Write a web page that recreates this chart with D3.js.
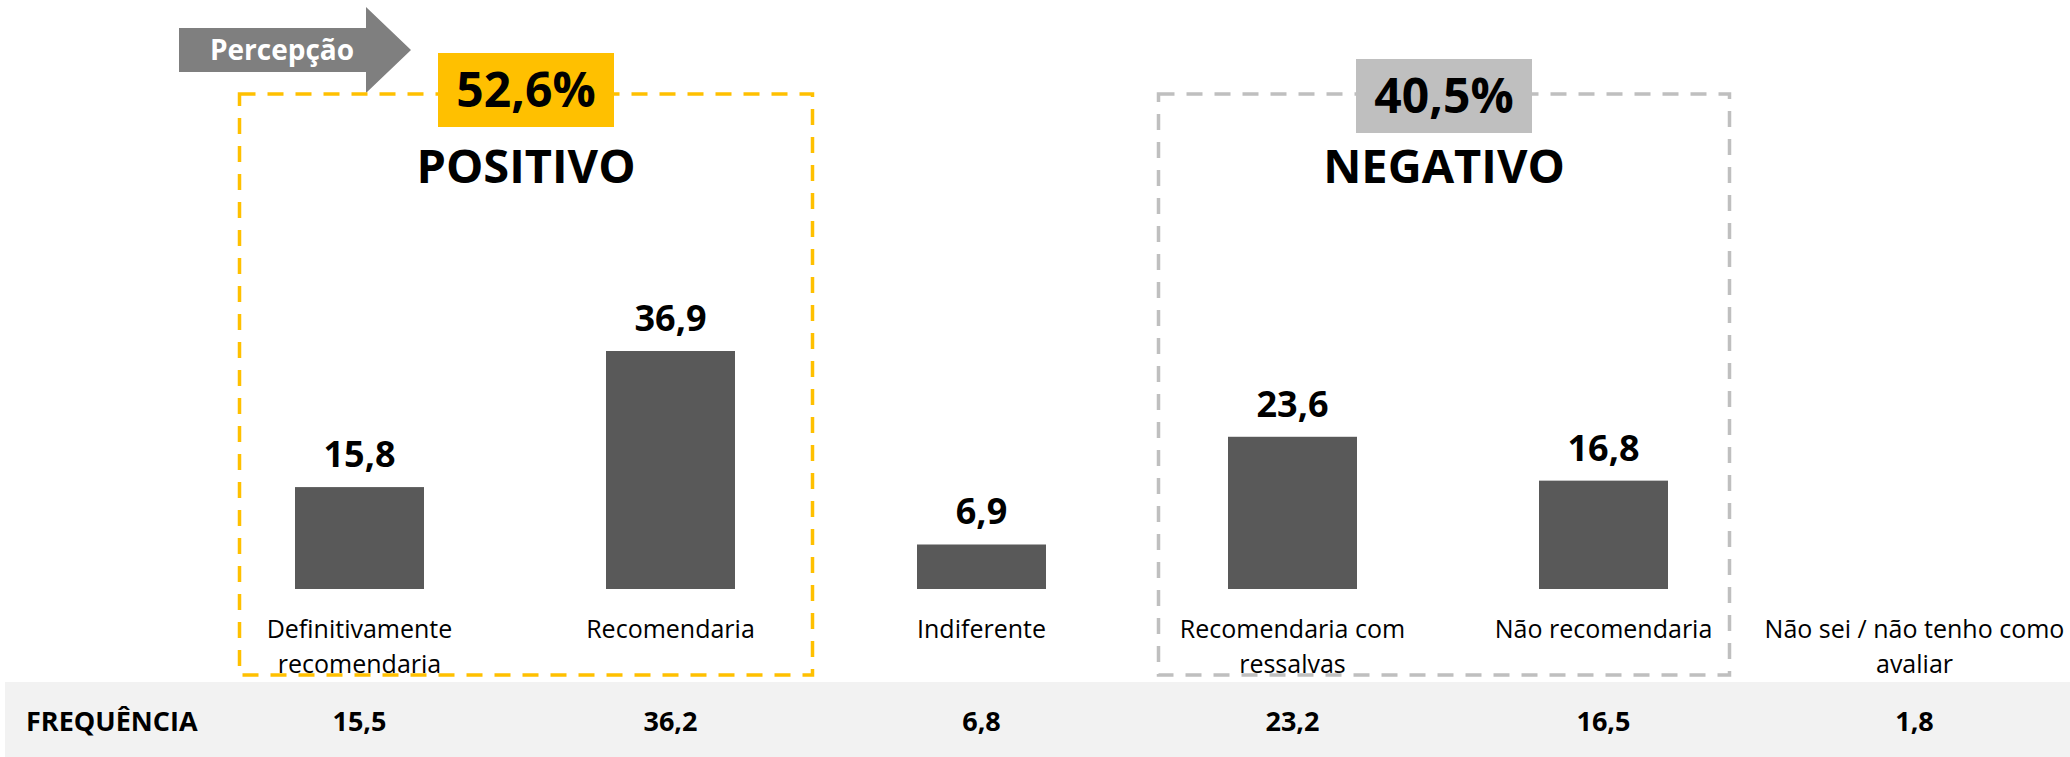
<!DOCTYPE html>
<html>
<head>
<meta charset="utf-8">
<script src="https://cdn.jsdelivr.net/npm/d3@7"></script>
<style>
  body { margin: 0; background: #fff; }
  svg { display: block; font-family: "Open Sans", "Noto Sans", sans-serif; }
</style>
</head>
<body>
<script>
// chart data
var categories = [
  "Definitivamente\nrecomendaria",
  "Recomendaria",
  "Indiferente",
  "Recomendaria com\nressalvas",
  "Não recomendaria",
  "Não sei / não tenho como\navaliar"
]
var barValues = [15.8, 36.9, 6.9, 23.6, 16.8, null]
var frequency = [15.5, 36.2, 6.8, 23.2, 16.5, 1.8]

var groupNames = ["POSITIVO", "NEGATIVO"]
var groupShares = ["52,6%", "40,5%"]
var groupFirst = [0, 3]
var groupLast = [1, 4]

var fmt = function(v) { return d3.format(".1f")(v).replace(".", ",") }

var width = 2070, height = 757
var svg = d3.select('body').append('svg')
  .attr('width', width)
  .attr('height', height)

var x = d3.scaleBand().domain(d3.range(categories.length)).range([204, 2070]).padding(0)
var cx = function(i) { return x(i) + x.bandwidth() / 2 }
var barW = 129
var y = d3.scaleLinear().domain([0, 40]).range([589, 589 - 258])

// arrow "Percepção"
svg.append('path')
  .attr('d', 'M179,28 H366 V7 L411,50 L366,93 V72 H179 Z')
  .attr('fill', '#7f7f7f')
svg.append('text')
  .attr('x', 282).attr('y', 60)
  .attr('text-anchor', 'middle')
  .attr('fill', '#fff')
  .style('font-weight', 700)
  .style('font-size', '28px')
  .text('Percepção')

// group boxes
var boxStyle = [
  { stroke: '#ffc000', fill: '#ffc000', l: 120, r: 142, ly: 53 },
  { stroke: '#bfbfbf', fill: '#bfbfbf', l: 134, r: 126, ly: 59 }
]
groupNames.forEach(function(name, g) {
  var st = boxStyle[g]
  var x0 = cx(groupFirst[g]) - st.l, x1 = cx(groupLast[g]) + st.r
  var mid = (x0 + x1) / 2
  svg.append('rect')
    .attr('x', x0).attr('y', 94)
    .attr('width', x1 - x0).attr('height', 675 - 94)
    .attr('fill', 'none')
    .attr('stroke', st.stroke)
    .attr('stroke-width', 3.5)
    .attr('stroke-dasharray', '16 12')
  svg.append('rect')
    .attr('x', mid - 88).attr('y', st.ly)
    .attr('width', 176).attr('height', 74)
    .attr('fill', st.fill)
  svg.append('text')
    .attr('x', mid).attr('y', st.ly + 37)
    .attr('dy', '0.36em')
    .attr('text-anchor', 'middle')
    .style('font-weight', 700)
    .style('font-size', '48px')
    .text(groupShares[g])
  svg.append('text')
    .attr('x', mid).attr('y', 183)
    .attr('text-anchor', 'middle')
    .style('font-weight', 700)
    .style('font-size', '47px')
    .text(name)
})

// bars
var idx = d3.range(categories.length).filter(function(i) { return barValues[i] != null })
svg.selectAll('rect.bar')
  .data(idx)
  .enter().append('rect')
  .attr('class', 'bar')
  .attr('x', function(i) { return cx(i) - barW / 2 })
  .attr('y', function(i) { return y(barValues[i]) })
  .attr('width', barW)
  .attr('height', function(i) { return y(0) - y(barValues[i]) })
  .attr('fill', '#595959')

svg.selectAll('text.val')
  .data(idx)
  .enter().append('text')
  .attr('class', 'val')
  .attr('x', function(i) { return cx(i) })
  .attr('y', function(i) { return y(barValues[i]) - 20 })
  .attr('text-anchor', 'middle')
  .style('font-weight', 700)
  .style('font-size', '36px')
  .text(function(i) { return fmt(barValues[i]) })

// category labels
var cats = svg.selectAll('text.cat')
  .data(categories)
  .enter().append('text')
  .attr('class', 'cat')
  .attr('text-anchor', 'middle')
  .style('font-size', '25px')
  .attr('fill', '#000')
cats.each(function(c, i) {
  var t = d3.select(this)
  c.split('\n').forEach(function(line, k) {
    t.append('tspan')
      .attr('x', cx(i))
      .attr('y', 638 + k * 35)
      .text(line)
  })
})

// frequency row
svg.append('rect')
  .attr('x', 5).attr('y', 682)
  .attr('width', width - 5).attr('height', height - 682)
  .attr('fill', '#f2f2f2')
svg.append('text')
  .attr('x', 26).attr('y', 731)
  .style('font-weight', 700)
  .style('font-size', '27px')
  .text('FREQUÊNCIA')
svg.selectAll('text.freq')
  .data(frequency)
  .enter().append('text')
  .attr('class', 'freq')
  .attr('x', function(d, i) { return cx(i) })
  .attr('y', 731)
  .attr('text-anchor', 'middle')
  .style('font-weight', 700)
  .style('font-size', '27px')
  .text(function(d) { return fmt(d) })
</script>
</body>
</html>
